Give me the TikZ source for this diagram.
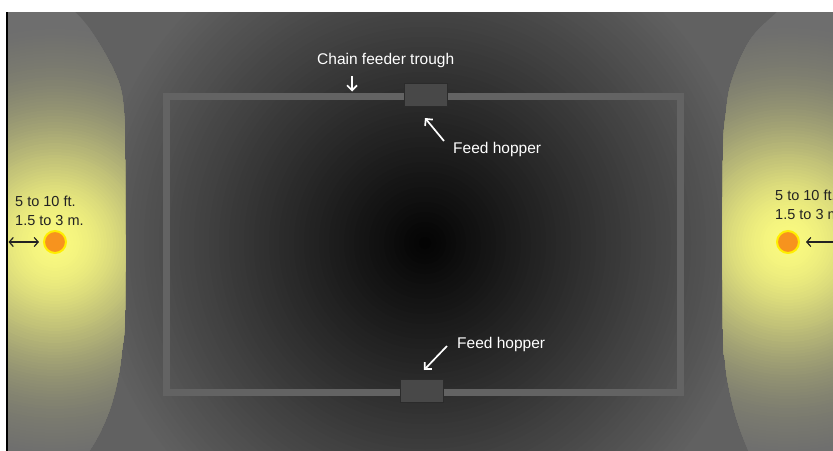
\documentclass[tikz,border=0pt]{standalone}
\usepackage{fontspec}
\setmainfont{Liberation Sans}
\usetikzlibrary{arrows.meta}
\definecolor{troughc}{HTML}{636363}
\definecolor{hopfill}{HTML}{484848}
\definecolor{hopdraw}{HTML}{2B2B2B}
\definecolor{orangec}{HTML}{F7931E}
\definecolor{yellowc}{HTML}{FFEE00}
\definecolor{darktext}{HTML}{222222}
\definecolor{bgedge}{gray}{0.38}
\definecolor{litedge}{gray}{0.43}
\tikzset{
  lab/.style={font=\fontsize{15.5}{18}\selectfont, inner sep=0pt, anchor=base west},
  sidelab/.style={font=\fontsize{14.5}{17}\selectfont, inner sep=0pt, anchor=base west, text=darktext},
  whitelab/.style={lab, text=white},
  hopper/.style={draw=hopdraw, fill=hopfill, line width=1pt, minimum width=43pt, minimum height=23pt, inner sep=0pt},
  warr/.style={white, line width=1.7pt, -{Straight Barb[length=5pt,width=10pt]}},
  darr/.style={darktext, line width=1.2pt, {Straight Barb[length=4pt,width=9pt]}-{Straight Barb[length=4pt,width=9pt]}},
  dot/.style={circle, fill=orangec, draw=yellowc, line width=2pt, minimum size=22pt, inner sep=0pt}
}
\newcommand{\litarea}[1]{%
  \fill[litedge] (#1) circle (300);%
  \foreach \i in {0,...,73}{%
    \pgfmathsetmacro{\rr}{220-3*\i}%
    \pgfmathsetmacro{\tt}{\rr/220}%
    \pgfmathsetmacro{\ww}{max(0,exp(-3.2*\tt*\tt)-\tt*exp(-3.2))}%
    \pgfmathsetmacro{\cr}{0.43+\ww*0.55}%
    \pgfmathsetmacro{\cb}{0.43+\ww*0.07}%
    \definecolor{litc}{rgb}{\cr,\cr,\cb}%
    \fill[litc] (#1) circle (\rr);%
  }%
}
\begin{document}
\begin{tikzpicture}[x=1pt,y=-1pt]
\useasboundingbox (0,0) rectangle (833,450);
\fill[white] (0,0) rectangle (833,450);
\begin{scope}
  \clip (8,12) rectangle (845,465);
  \fill[bgedge] (8,12) rectangle (845,465);
  \coordinate (bgc) at (425,243);
  \foreach \i in {0,...,66}{%
    \pgfmathsetmacro{\rr}{336-5*\i}%
    \pgfmathsetmacro{\gg}{0.01+0.0011*\rr}%
    \definecolor{bgc}{gray}{\gg}%
    \fill[bgc] (bgc) circle (\rr);
  }
  % left lit area
  \begin{scope}
    \clip plot[smooth,tension=0.6] coordinates {(40,-12) (75,12) (97,40) (118,80) (124,113) (125,160) (125,310) (122,350) (117,383) (107,417) (90,450) (65,480)} -- (-60,500) -- (-60,-60) -- cycle;
    \coordinate (lcen) at (55,243);
    \litarea{lcen}
  \end{scope}
  % right lit area
  \begin{scope}
    \clip plot[smooth,tension=0.6] coordinates {(805,-12) (777,12) (750,40) (732,80) (726,113) (723,160) (723,330) (725,360) (728,383) (736,417) (748,450) (760,475)} -- (900,500) -- (900,-60) -- cycle;
    \coordinate (rcen) at (788,242);
    \litarea{rcen}
  \end{scope}
  % trough
  \draw[troughc, line width=7pt] (166.5,96) rectangle (680,392);
  \node[hopper] (hop1) at (425.5,95) {};
  \node[hopper] (hop2) at (422,391) {};
  % labels
  \node[whitelab] (chain) at (317,64) {Chain feeder trough};
  \node[whitelab] (fh1) at (453,153.5) {Feed hopper};
  \node[whitelab] (fh2) at (457,348) {Feed hopper};
  \coordinate (c1) at (352,76);
  \coordinate (c2) at (352,91.5);
  \draw[warr] (c1) -- (c2);
  \coordinate (h1a) at (444,141);
  \coordinate (h1b) at (425,118);
  \draw[warr] (h1a) -- (h1b);
  \coordinate (h2a) at (447,346);
  \coordinate (h2b) at (424,370);
  \draw[warr] (h2a) -- (h2b);
  % left marker
  \node[sidelab] (l1) at (15,206) {5 to 10 ft.};
  \node[sidelab] (l2) at (15,225) {1.5 to 3 m.};
  \node[dot] (ld) at (55,242) {};
  \coordinate (la) at (8.5,242);
  \draw[darr] (la) -- ([xshift=-4pt]ld.west);
  % right marker
  \node[sidelab] (r1) at (775,200.5) {5 to 10 ft.};
  \node[sidelab] (r2) at (775,219) {1.5 to 3 m.};
  \node[dot] (rd) at (788,242) {};
  \coordinate (ra) at (845,242);
  \draw[darr] ([xshift=6pt]rd.east) -- (ra);
\end{scope}
\draw[black, line width=2.6pt] (7,12) -- (7,455);
\end{tikzpicture}
\end{document}
